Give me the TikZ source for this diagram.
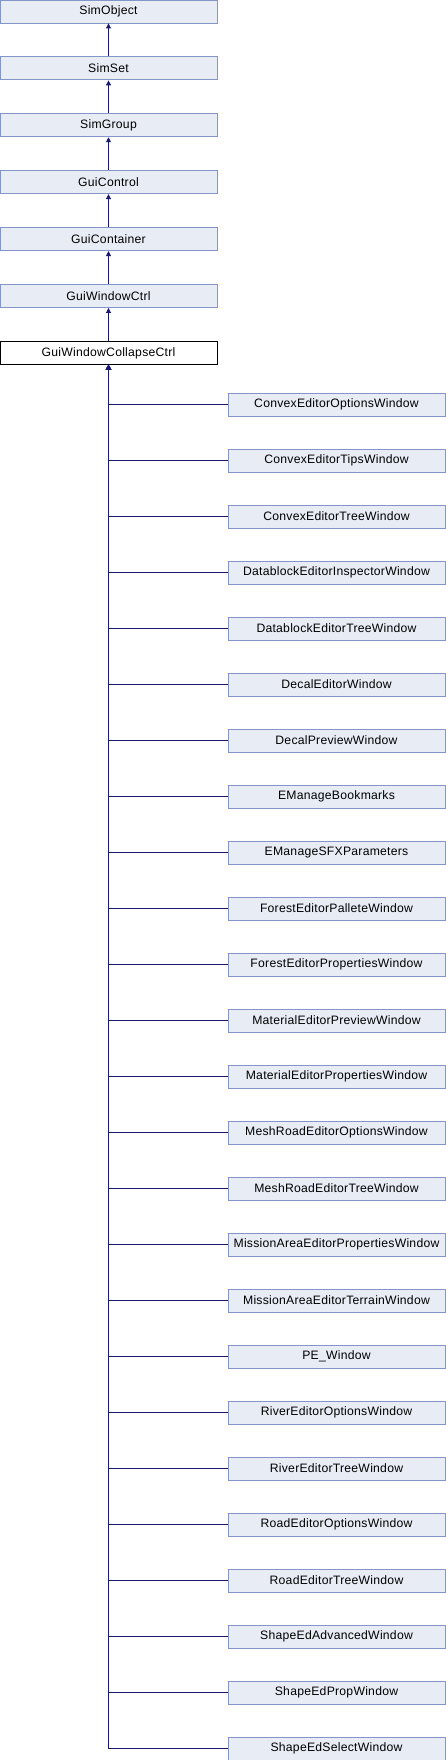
\documentclass[tikz,border=0pt]{standalone}
\usepackage{fontspec}
\setmainfont{Liberation Sans}
\newfontfamily\dxfont[LetterSpace=2]{Liberation Sans}
\usepackage{xcolor}
\definecolor{dxfill}{HTML}{E8ECF5}
\definecolor{dxborder}{HTML}{8496C8}
\definecolor{dxedge}{HTML}{191970}
\usetikzlibrary{arrows.meta, positioning}

\begin{document}
\begin{tikzpicture}[x=1pt, y=1pt,
    cls/.style={draw=dxborder, fill=dxfill, line width=0.9pt, minimum width=217pt,
      minimum height=23pt, inner sep=0pt, font=\dxfont\fontsize{12.2}{14}\selectfont},
    current/.style={cls, draw=black, fill=white},
    edge/.style={draw=dxedge, line width=0.9pt},
    inherit/.style={edge, -{Triangle[width=5pt, length=5pt]}}]
  \useasboundingbox (0,0) rectangle (446,-1760);
  % base class chain
  \node[cls] (simobject) at (108.5,-11.5) {SimObject};
  \node[cls, below=33pt of simobject] (simset) {SimSet};
  \node[cls, below=33pt of simset] (simgroup) {SimGroup};
  \node[cls, below=33pt of simgroup] (guicontrol) {GuiControl};
  \node[cls, below=33pt of guicontrol] (guicontainer) {GuiContainer};
  \node[cls, below=33pt of guicontainer] (guiwindow) {GuiWindowCtrl};
  \node[current, below=33pt of guiwindow] (collapse) {GuiWindowCollapseCtrl};
  \draw[inherit] (simset) -- (simobject);
  \draw[inherit] (simgroup) -- (simset);
  \draw[inherit] (guicontrol) -- (simgroup);
  \draw[inherit] (guicontainer) -- (guicontrol);
  \draw[inherit] (guiwindow) -- (guicontainer);
  \draw[inherit] (collapse) -- (guiwindow);
  % derived windows
  \foreach \name [count=\i from 0] in {ConvexEditorOptionsWindow, ConvexEditorTipsWindow,
      ConvexEditorTreeWindow, DatablockEditorInspectorWindow, DatablockEditorTreeWindow,
      DecalEditorWindow, DecalPreviewWindow, EManageBookmarks, EManageSFXParameters,
      ForestEditorPalleteWindow, ForestEditorPropertiesWindow, MaterialEditorPreviewWindow,
      MaterialEditorPropertiesWindow, MeshRoadEditorOptionsWindow, MeshRoadEditorTreeWindow,
      MissionAreaEditorPropertiesWindow, MissionAreaEditorTerrainWindow, PE\_Window,
      RiverEditorOptionsWindow, RiverEditorTreeWindow, RoadEditorOptionsWindow,
      RoadEditorTreeWindow, ShapeEdAdvancedWindow, ShapeEdPropWindow, ShapeEdSelectWindow}
  {
    \node[cls] (child\i) at (336.5,-404.5-\i*56) {\name};
    \draw[inherit] (child\i.west) -| (collapse.south);
  }
\end{tikzpicture}
\end{document}
